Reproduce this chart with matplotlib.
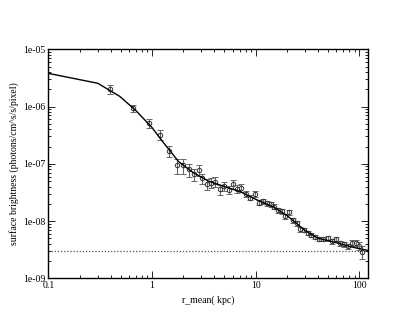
import matplotlib
matplotlib.use("Agg")
import matplotlib.pyplot as plt
import numpy as np

# ---------------- data ----------------
r_mean = [0.394, 0.66, 0.93, 1.19, 1.46, 1.73, 1.98, 2.26, 2.54, 2.82,
          3.06, 3.37, 3.73, 4.08, 4.53, 4.95, 5.49, 6.04, 6.6, 7.27,
          8.07, 8.89, 9.86, 10.8, 11.8, 12.8, 14.0, 15.1, 16.6, 18.0,
          19.3, 21.0, 22.8, 24.9, 27.0, 29.1, 31.8, 34.5, 37.6, 40.8,
          44.7, 49.9, 54.1, 59.1, 64.6, 70.6, 77.1, 85.5, 92.9, 99.3, 105.0]
sb = [2.0e-6, 9.3e-7, 5.2e-7, 3.2e-7, 1.67e-7, 9.5e-8, 9.5e-8, 8.0e-8, 6.6e-8, 7.8e-8,
      5.6e-8, 4.4e-8, 4.7e-8, 4.9e-8, 3.6e-8, 4.1e-8, 3.5e-8, 4.4e-8, 3.7e-8, 3.8e-8,
      2.97e-8, 2.56e-8, 2.97e-8, 2.1e-8, 2.24e-8, 2.04e-8, 1.96e-8, 1.79e-8, 1.56e-8, 1.5e-8,
      1.23e-8, 1.42e-8, 1.04e-8, 9.1e-9, 7.2e-9, 7.0e-9, 6.3e-9, 5.7e-9, 5.3e-9, 4.8e-9,
      4.8e-9, 5.0e-9, 4.5e-9, 4.8e-9, 4.1e-9, 3.9e-9, 3.6e-9, 4.2e-9, 4.1e-9, 3.7e-9, 2.9e-9]
rel_err = [0.18, 0.14, 0.18, 0.2, 0.22, 0.3, 0.3, 0.25, 0.25, 0.2,
           0.2, 0.22, 0.2, 0.2, 0.2, 0.18, 0.15, 0.18, 0.15, 0.15,
           0.12, 0.1, 0.12, 0.1, 0.1, 0.1, 0.1, 0.1, 0.1, 0.1,
           0.1, 0.1, 0.1, 0.1, 0.1, 0.08, 0.08, 0.08, 0.08, 0.08,
           0.08, 0.1, 0.1, 0.1, 0.1, 0.1, 0.1, 0.12, 0.12, 0.15, 0.25]

model_r = [0.1, 0.3, 0.49, 0.7, 1.0, 1.3, 1.8, 2.5, 3.5, 5.0,
           7.0, 10.0, 15.0, 20.0, 25.0, 30.0, 40.0, 60.0, 80.0, 122.0]
model_sb = [3.8e-6, 2.55e-6, 1.5e-6, 8.5e-7, 4.3e-7, 2.3e-7, 1.1e-7, 7.0e-8, 5.0e-8, 4.0e-8,
            3.3e-8, 2.4e-8, 1.75e-8, 1.25e-8, 9.0e-9, 6.8e-9, 5.0e-9, 4.2e-9, 3.6e-9, 3.05e-9]

background = 3.0e-9

plt.rcParams['font.family'] = ['Liberation Serif', 'DejaVu Serif']
plt.rcParams['font.size'] = 7

fig = plt.figure(figsize=(4.15, 3.28), dpi=100)
ax = fig.add_axes([48.3 / 415, 1 - 278.3 / 328, 320 / 415, 229 / 328])

yerr = np.array(sb) * np.array(rel_err)
ax.errorbar(r_mean, sb, yerr=yerr, fmt='o', ms=3.2, mfc='none', mec='#333333',
            mew=0.7, ecolor='#666666', elinewidth=0.8, capsize=2.5, capthick=0.8, zorder=2)
ax.plot(model_r, model_sb, color='black', lw=1.0, zorder=3)
ax.axhline(background, color='#555555', lw=0.9, ls=(0, (1, 1.5)), zorder=1)

ax.set_xscale('log')
ax.set_yscale('log')
ax.set_xlim(0.1, 122)
ax.set_ylim(1e-9, 1e-5)

ax.set_xticks([0.1, 1, 10, 100])
ax.set_xticklabels(['0.1', '1', '10', '100'])
ax.set_yticks([1e-9, 1e-8, 1e-7, 1e-6, 1e-5])
ax.set_yticklabels(['1e-09', '1e-08', '1e-07', '1e-06', '1e-05'])
ax.tick_params(which='both', direction='in', top=True, right=True, width=0.6)
ax.tick_params(which='major', length=5, pad=2)
ax.tick_params(which='minor', length=2.5)
for s in ax.spines.values():
    s.set_linewidth(1.0)

ax.set_xlabel('r_mean( kpc)', labelpad=4)
ax.set_ylabel('surface brightness (photons/cm^s/s/pixel)', labelpad=3)

fig.savefig('out.png', dpi=100)
